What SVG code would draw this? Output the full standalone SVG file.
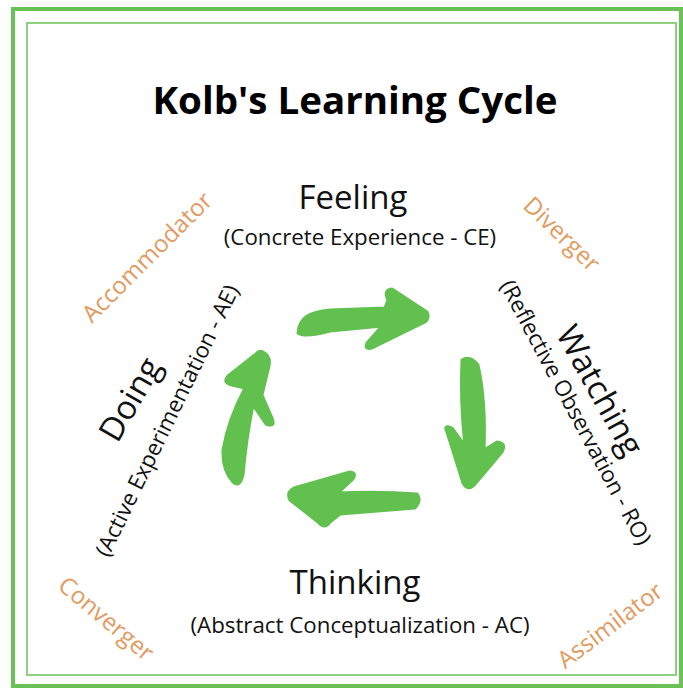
<svg xmlns="http://www.w3.org/2000/svg" width="683" height="689" viewBox="0 0 683 689">
  <style>
    .frame-outer { fill: none; stroke: #69c158; stroke-width: 4; }
    .frame-inner { fill: none; stroke: #8fd080; stroke-width: 2; }
    .title { font-family: "Open Sans", "Noto Sans", sans-serif; font-weight: bold; font-size: 37px; fill: #000; text-anchor: middle; }
    .mode { font-family: "Open Sans", "Noto Sans", sans-serif; font-size: 33px; fill: #111; text-anchor: middle; }
    .sub { font-family: "Open Sans", "Noto Sans", sans-serif; font-size: 22.3px; fill: #111; text-anchor: middle; }
    .style { font-family: "Open Sans", "Noto Sans", sans-serif; font-size: 24px; fill: #e39a5e; text-anchor: middle; }
    .arrow { fill: #62c04f; stroke: #62c04f; stroke-width: 3; stroke-linejoin: round; }
  </style>
  <rect width="683" height="689" fill="#ffffff"/>

  <!-- frame -->
  <rect class="frame-outer" x="13" y="9" width="668" height="677"/>
  <rect class="frame-inner" x="27" y="23" width="649" height="652"/>

  <text class="title" x="355" y="114" textLength="405" lengthAdjust="spacingAndGlyphs">Kolb's Learning Cycle</text>

  <!-- learning modes -->
  <g id="feeling">
    <text class="mode" x="353" y="209">Feeling</text>
    <text class="sub" x="360" y="245">(Concrete Experience - CE)</text>
  </g>
  <g id="watching">
    <text class="mode" transform="translate(590,396) rotate(61)">Watching</text>
    <text class="sub" transform="translate(569,416) rotate(62)">(Reflective Observation - RO)</text>
  </g>
  <g id="thinking">
    <text class="mode" x="355" y="594">Thinking</text>
    <text class="sub" x="360" y="633">(Abstract Conceptualization - AC)</text>
  </g>
  <g id="doing">
    <text class="mode" transform="translate(140,405) rotate(-60)">Doing</text>
    <text class="sub" transform="translate(174,424) rotate(-64)">(Active Experimentation - AE)</text>
  </g>

  <!-- learning styles -->
  <g id="accommodator"><text class="style" transform="translate(153,263) rotate(-45)">Accommodator</text></g>
  <g id="diverger"><text class="style" transform="translate(556,240) rotate(44)">Diverger</text></g>
  <g id="converger"><text class="style" transform="translate(101,625) rotate(40)">Converger</text></g>
  <g id="assimilator"><text class="style" transform="translate(615,632) rotate(-37)">Assimilator</text></g>

  <!-- cycle arrows -->
  <g id="connectors">
    <path class="arrow" d="M 298,333 C 299,317 310,312 330,310 L 385,308 L 388,300 Q 383,290 392,289 L 427,312 Q 430,318 425,322 L 372,348 Q 364,350 367,343 L 382,326 L 330,331 Q 305,338 298,333 Z"/>
    <path class="arrow" d="M 462,360 Q 470,355 478,365 Q 486,400 484,450 L 497,442 Q 507,443 502,452 L 475,484 Q 468,492 463,483 L 447,432 Q 443,424 452,428 L 465,446 Q 460,400 462,360 Z"/>
    <path class="arrow" d="M 417,494 Q 422,500 415,508 L 340,514 L 330,522 Q 325,530 318,522 L 290,500 Q 286,492 294,488 L 350,472 Q 358,473 352,480 L 338,493 Q 380,491 417,494 Z"/>
    <path class="arrow" d="M 263,352 Q 271,356 269,366 L 262,395 L 272,418 Q 276,428 266,424 L 253,405 Q 246,440 243,475 Q 240,488 233,482 Q 222,470 223,450 Q 228,420 245,388 L 232,385 Q 222,383 228,376 L 256,354 Q 259,350 263,352 Z"/>
  </g>
</svg>
